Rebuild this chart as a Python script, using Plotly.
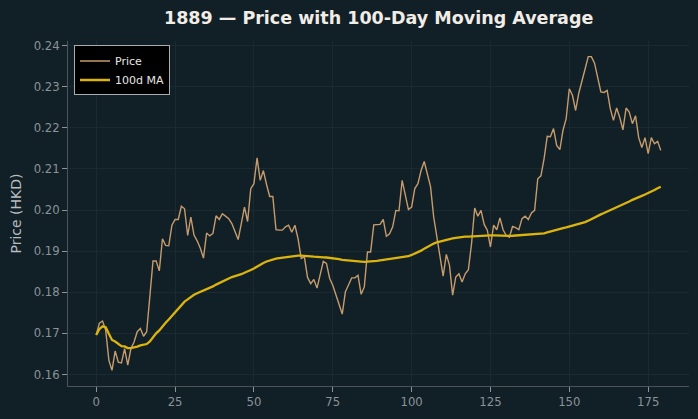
import plotly.graph_objects as go
import pandas as pd

title_text = "1889 — Price with 100-Day Moving Average"
price = [
    0.1696, 0.1725, 0.1730, 0.1708, 0.1635, 0.1610, 0.1657, 0.1630, 0.1628, 0.1663,
    0.1623, 0.1663, 0.1679, 0.1704, 0.1712, 0.1693, 0.1704, 0.1789, 0.1876, 0.1876,
    0.1852, 0.1930, 0.1914, 0.1913, 0.1963, 0.1977, 0.1977, 0.2009, 0.2003, 0.1938,
    0.1983, 0.1939, 0.1925, 0.1907, 0.1883, 0.1944, 0.1937, 0.1943, 0.1986, 0.1977,
    0.1991, 0.1985, 0.1979, 0.1967, 0.1946, 0.1928, 0.1967, 0.2007, 0.1972, 0.2052,
    0.2064, 0.2127, 0.2072, 0.2096, 0.2062, 0.2033, 0.2033, 0.1952, 0.1951, 0.1951,
    0.1959, 0.1963, 0.1946, 0.1963, 0.1930, 0.1882, 0.1886, 0.1836, 0.1821, 0.1831,
    0.1810, 0.1845, 0.1875, 0.1870, 0.1834, 0.1817, 0.1793, 0.1768, 0.1747, 0.1801,
    0.1817, 0.1835, 0.1835, 0.1841, 0.1795, 0.1813, 0.1898, 0.1898, 0.1964, 0.1965,
    0.1965, 0.1977, 0.1936, 0.1942, 0.1959, 0.1999, 0.1998, 0.2072, 0.2040, 0.2001,
    0.2007, 0.2052, 0.2064, 0.2096, 0.2118, 0.2090, 0.2057, 0.1983, 0.1934, 0.1886,
    0.1839, 0.1892, 0.1866, 0.1793, 0.1837, 0.1845, 0.1825, 0.1845, 0.1855, 0.1918,
    0.2005, 0.1985, 0.1999, 0.1965, 0.1951, 0.1910, 0.1963, 0.1952, 0.1981, 0.1952,
    0.1938, 0.1934, 0.1960, 0.1957, 0.1952, 0.1979, 0.1985, 0.1977, 0.1993, 0.1999,
    0.2076, 0.2083, 0.2125, 0.2179, 0.2178, 0.2198, 0.2157, 0.2147, 0.2194, 0.2222,
    0.2295, 0.2279, 0.2242, 0.2284, 0.2311, 0.2343, 0.2373, 0.2373, 0.2357, 0.2323,
    0.2287, 0.2286, 0.2291, 0.2246, 0.2218, 0.2248, 0.2225, 0.2195, 0.2248, 0.2238,
    0.2210, 0.2229, 0.2176, 0.2152, 0.2176, 0.2137, 0.2176, 0.2161, 0.2167, 0.2145,
]
days = list(range(len(price)))
ma_window = 100
ma = pd.Series(price).rolling(ma_window, min_periods=1).mean().tolist()

x_ticks = [0, 25, 50, 75, 100, 125, 150, 175]
y_ticks = [0.16, 0.17, 0.18, 0.19, 0.20, 0.21, 0.22, 0.23, 0.24]

BG = "#111f26"
GRID = "#1b2a31"
TICK_COLOR = "#8a9398"
AXIS_LINE = "#4d5457"

fig = go.Figure()
fig.add_trace(go.Scatter(x=days, y=price, mode="lines", name="Price",
                         line=dict(color="#c69c6d", width=1.4)))
fig.add_trace(go.Scatter(x=days, y=ma, mode="lines", name="100d MA",
                         line=dict(color="#dcb40e", width=2.3)))

fig.update_layout(
    width=698, height=419,
    paper_bgcolor=BG, plot_bgcolor=BG,
    margin=dict(l=68, r=9.4, t=40.5, b=33),
    title=dict(text=title_text, x=0.5425, xanchor="center", y=0.957, yanchor="middle",
               font=dict(family="DejaVu Sans", size=17.5, color="#f1ede6", weight="bold")),
    showlegend=True,
    legend=dict(x=0.0097, y=0.987, xanchor="left", yanchor="top",
                bgcolor="#000000", bordercolor="#a9adaf", borderwidth=1,
                font=dict(family="DejaVu Sans", size=11, color="#e6e6e6"),
                tracegroupgap=0, itemwidth=30),
    font=dict(family="DejaVu Sans"),
)
fig.update_xaxes(range=[-8.95, 187.95], tickmode="array", tickvals=x_ticks,
                 ticks="outside", ticklen=5, tickcolor=TICK_COLOR, tickwidth=1,
                 tickfont=dict(family="DejaVu Sans", size=11.7, color=TICK_COLOR),
                 showgrid=True, gridcolor=GRID, gridwidth=1, zeroline=False,
                 showline=True, linecolor=AXIS_LINE, linewidth=1, mirror=False)
fig.update_yaxes(range=[0.1572, 0.2411], tickmode="array", tickvals=y_ticks,
                 tickformat=".2f",
                 ticks="outside", ticklen=5, tickcolor=TICK_COLOR, tickwidth=1,
                 tickfont=dict(family="DejaVu Sans", size=11.7, color=TICK_COLOR),
                 showgrid=True, gridcolor=GRID, gridwidth=1, zeroline=False,
                 showline=True, linecolor=AXIS_LINE, linewidth=1, mirror=False,
                 title=dict(text="Price (HKD)", standoff=8,
                            font=dict(family="DejaVu Sans", size=14, color="#b8bdbf")))

fig.write_html("out.html")
